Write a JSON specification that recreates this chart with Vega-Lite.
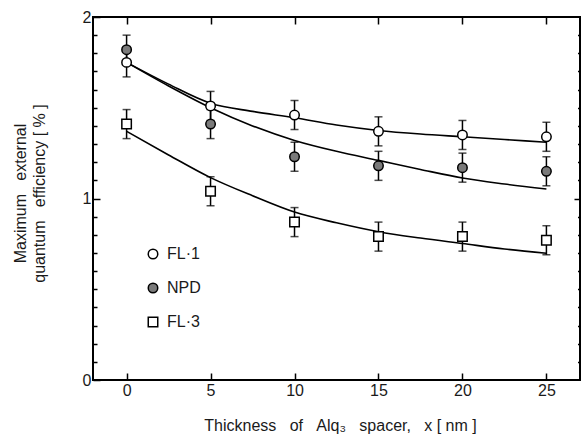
{
  "$schema": "https://vega.github.io/schema/vega-lite/v6.json",
  "width": 487,
  "height": 363,
  "autosize": {"type": "none"},
  "padding": {"left": 93, "top": 17, "right": 1, "bottom": 56},
  "background": "white",
  "config": {
    "view": {"stroke": "black", "strokeWidth": 2},
    "font": "Liberation Sans",
    "axis": {
      "domain": false,
      "grid": false,
      "tickColor": "black",
      "tickWidth": 1.5,
      "labelFont": "Liberation Sans",
      "titleFont": "Liberation Sans",
      "labelColor": "#1a1a1a",
      "titleColor": "#1a1a1a",
      "titleFontWeight": "normal",
      "labelFontSize": 16,
      "titleFontSize": 16,
      "labelOverlap": false,
      "labelFlush": false
    },
    "legend": {"labelFont": "Liberation Sans", "labelColor": "#1a1a1a"}
  },
  "datasets": {
    "curves": [
      {"series": "FL·1", "x": 0, "y": 1.75},
      {"series": "FL·1", "x": 2.5, "y": 1.63},
      {"series": "FL·1", "x": 5, "y": 1.525},
      {"series": "FL·1", "x": 7.5, "y": 1.48},
      {"series": "FL·1", "x": 10, "y": 1.445},
      {"series": "FL·1", "x": 12.5, "y": 1.405},
      {"series": "FL·1", "x": 15, "y": 1.375},
      {"series": "FL·1", "x": 17.5, "y": 1.355},
      {"series": "FL·1", "x": 20, "y": 1.34},
      {"series": "FL·1", "x": 22.5, "y": 1.325},
      {"series": "FL·1", "x": 25, "y": 1.31},
      {"series": "NPD", "x": 0, "y": 1.75},
      {"series": "NPD", "x": 2.5, "y": 1.62},
      {"series": "NPD", "x": 5, "y": 1.5},
      {"series": "NPD", "x": 7.5, "y": 1.4},
      {"series": "NPD", "x": 10, "y": 1.32},
      {"series": "NPD", "x": 12.5, "y": 1.26},
      {"series": "NPD", "x": 15, "y": 1.21},
      {"series": "NPD", "x": 17.5, "y": 1.16},
      {"series": "NPD", "x": 20, "y": 1.113},
      {"series": "NPD", "x": 22.5, "y": 1.08},
      {"series": "NPD", "x": 25, "y": 1.052},
      {"series": "FL·3", "x": 0, "y": 1.37},
      {"series": "FL·3", "x": 2.5, "y": 1.24},
      {"series": "FL·3", "x": 5, "y": 1.115},
      {"series": "FL·3", "x": 7.5, "y": 1.015},
      {"series": "FL·3", "x": 10, "y": 0.925},
      {"series": "FL·3", "x": 12.5, "y": 0.866},
      {"series": "FL·3", "x": 15, "y": 0.817},
      {"series": "FL·3", "x": 17.5, "y": 0.782},
      {"series": "FL·3", "x": 20, "y": 0.752},
      {"series": "FL·3", "x": 22.5, "y": 0.722},
      {"series": "FL·3", "x": 25, "y": 0.698}
    ],
    "points": [
      {"series": "FL·1", "x": 0, "y": 1.75, "err": 0.08},
      {"series": "FL·1", "x": 5, "y": 1.51, "err": 0.08},
      {"series": "FL·1", "x": 10, "y": 1.46, "err": 0.08},
      {"series": "FL·1", "x": 15, "y": 1.37, "err": 0.08},
      {"series": "FL·1", "x": 20, "y": 1.35, "err": 0.08},
      {"series": "FL·1", "x": 25, "y": 1.34, "err": 0.08},
      {"series": "NPD", "x": 0, "y": 1.82, "err": 0.08},
      {"series": "NPD", "x": 5, "y": 1.41, "err": 0.08},
      {"series": "NPD", "x": 10, "y": 1.23, "err": 0.08},
      {"series": "NPD", "x": 15, "y": 1.18, "err": 0.08},
      {"series": "NPD", "x": 20, "y": 1.17, "err": 0.08},
      {"series": "NPD", "x": 25, "y": 1.15, "err": 0.08},
      {"series": "FL·3", "x": 0, "y": 1.41, "err": 0.08},
      {"series": "FL·3", "x": 5, "y": 1.04, "err": 0.08},
      {"series": "FL·3", "x": 10, "y": 0.87, "err": 0.08},
      {"series": "FL·3", "x": 15, "y": 0.79, "err": 0.08},
      {"series": "FL·3", "x": 20, "y": 0.79, "err": 0.08},
      {"series": "FL·3", "x": 25, "y": 0.77, "err": 0.08}
    ]
  },
  "layer": [
    {
      "data": {"name": "curves"},
      "mark": {"type": "line", "color": "black", "strokeWidth": 1.6, "interpolate": "monotone"},
      "encoding": {
        "x": {
          "field": "x", "type": "quantitative",
          "scale": {"domain": [-2, 27], "nice": false, "zero": false},
          "axis": {"orient": "bottom", "values": [0, 5, 10, 15, 20, 25], "tickSize": -7, "labelPadding": 9, "title": "Thickness\u00a0\u00a0\u00a0of\u00a0\u00a0\u00a0Alq₃\u00a0\u00a0\u00a0spacer,\u00a0\u00a0\u00a0x\u00a0[\u00a0nm\u00a0]", "titlePadding": 19, "titleX": 247}
        },
        "y": {
          "field": "y", "type": "quantitative",
          "scale": {"domain": [0, 2], "nice": false},
          "axis": {"orient": "left", "values": [0, 1, 2], "labelExpr": "format(datum.value, 'd')", "tickSize": -7, "labelPadding": 9, "title": ["Maximum\u00a0\u00a0\u00a0external", "quantum\u00a0\u00a0\u00a0efficiency\u00a0[\u00a0%\u00a0]"], "titlePadding": 35, "titleLineHeight": 19, "titleY": 176}
        },
        "detail": {"field": "series"}
      }
    },
    {
      "data": {"name": "points"},
      "mark": {"type": "errorbar", "color": "black", "ticks": {"size": 8, "thickness": 1.5}, "rule": {"strokeWidth": 1.5}},
      "encoding": {
        "x": {
          "field": "x", "type": "quantitative",
          "scale": {"domain": [-2, 27], "nice": false, "zero": false},
          "axis": {"orient": "top", "values": [0, 5, 10, 15, 20, 25], "tickSize": -7, "labels": false, "title": null}
        },
        "y": {
          "field": "y", "type": "quantitative",
          "scale": {"domain": [0, 2], "nice": false},
          "axis": {"orient": "left", "values": [0.1, 0.2, 0.3, 0.4, 0.5, 0.6, 0.7, 0.8, 0.9, 1.1, 1.2, 1.3, 1.4, 1.5, 1.6, 1.7, 1.8, 1.9], "tickSize": -4, "labels": false, "title": null}
        },
        "yError": {"field": "err"}
      }
    },
    {
      "data": {"name": "points"},
      "mark": {"type": "point", "filled": true, "stroke": "black", "strokeWidth": 1.5, "size": 90, "opacity": 1},
      "encoding": {
        "x": {
          "field": "x", "type": "quantitative",
          "scale": {"domain": [-2, 27], "nice": false, "zero": false},
          "axis": null
        },
        "y": {
          "field": "y", "type": "quantitative",
          "scale": {"domain": [0, 2], "nice": false},
          "axis": {"orient": "right", "values": [0.1, 0.2, 0.3, 0.4, 0.5, 0.6, 0.7, 0.8, 0.9, 1, 1.1, 1.2, 1.3, 1.4, 1.5, 1.6, 1.7, 1.8, 1.9], "tickSize": {"condition": {"test": "datum.value == 1", "value": -6}, "value": -2.5}, "labels": false, "title": null}
        },
        "shape": {
          "field": "series", "type": "nominal",
          "scale": {"domain": ["FL·1", "NPD", "FL·3"], "range": ["circle", "circle", "square"]},
          "legend": {"orient": "none", "legendX": 52, "legendY": 229, "title": null, "labelFontSize": 16, "rowPadding": 18, "symbolSize": 90, "labelOffset": 6, "padding": 0, "encode": {"symbols": {"update": {"stroke": {"value": "black"}, "strokeWidth": {"value": 1.5}}}}}
        },
        "fill": {
          "field": "series", "type": "nominal",
          "scale": {"domain": ["FL·1", "NPD", "FL·3"], "range": ["white", "#7a7a7a", "white"]},
          "legend": {"orient": "none", "legendX": 52, "legendY": 229, "title": null, "labelFontSize": 16, "rowPadding": 18, "symbolSize": 90, "labelOffset": 6, "padding": 0, "encode": {"symbols": {"update": {"stroke": {"value": "black"}, "strokeWidth": {"value": 1.5}}}}}
        }
      }
    }
  ],
  "resolve": {"axis": {"x": "independent", "y": "independent"}}
}
